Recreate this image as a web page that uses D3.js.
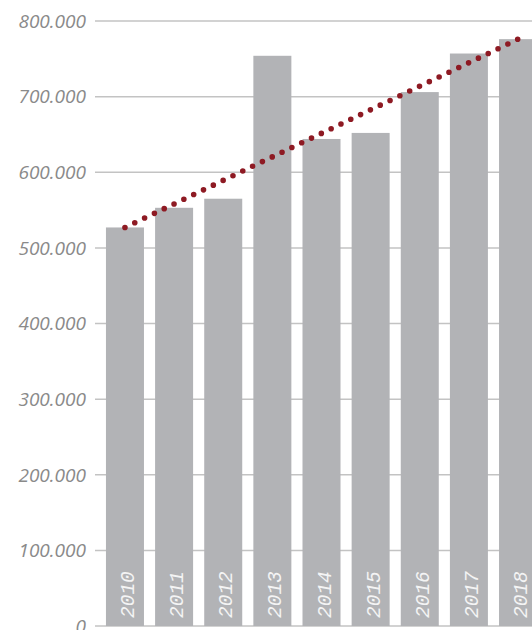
<!DOCTYPE html>
<html>
<head>
<meta charset="utf-8">
<script src="https://cdn.jsdelivr.net/npm/d3@7"></script>
<style>
  html, body { margin: 0; padding: 0; background: #fff; }
  svg { display: block; }
</style>
</head>
<body>
<svg id="chart" width="532" height="630"></svg>
<script>
// Annual totals, 2010–2018
const years = ["2010", "2011", "2012", "2013", "2014", "2015", "2016", "2017", "2018"];
const values = [527000, 553000, 565000, 754000, 644000, 652000, 706000, 757000, 776000];
const yTicks = [0, 100000, 200000, 300000, 400000, 500000, 600000, 700000, 800000];
const yTickLabels = ["0", "100.000", "200.000", "300.000", "400.000", "500.000", "600.000", "700.000", "800.000"];

const svg = d3.select("#chart");

const y = d3.scaleLinear().domain([0, 800000]).range([626, 21]);
const x = d3.scaleBand()
  .domain(years)
  .range([100.4, 542.6])
  .paddingInner(0.2265)
  .paddingOuter(0.113);

// Horizontal gridlines
svg.append("g")
  .selectAll("line")
  .data(yTicks)
  .join("line")
  .attr("x1", 95)
  .attr("x2", 532)
  .attr("y1", d => y(d))
  .attr("y2", d => y(d))
  .attr("stroke", "#c3c3c3")
  .attr("stroke-width", 1.5);

// Y-axis labels
svg.append("g")
  .selectAll("text")
  .data(yTicks)
  .join("text")
  .attr("x", 86)
  .attr("y", d => y(d))
  .attr("dy", "0.36em")
  .attr("text-anchor", "end")
  .attr("font-family", "'Open Sans', sans-serif")
  .attr("font-style", "italic")
  .attr("font-size", 19)
  .attr("fill", "#8a8a8a")
  .text((d, i) => yTickLabels[i]);

// Bars
svg.append("g")
  .selectAll("rect")
  .data(values)
  .join("rect")
  .attr("x", (d, i) => x(years[i]))
  .attr("y", d => y(d))
  .attr("width", x.bandwidth())
  .attr("height", d => y(0) - y(d))
  .attr("fill", "#b2b3b6");

// Year labels inside the bars
svg.append("g")
  .selectAll("text")
  .data(years)
  .join("text")
  .attr("transform", d => `translate(${x(d) + x.bandwidth() / 2 + 2},618) rotate(-90)`)
  .attr("dy", "0.36em")
  .attr("text-anchor", "start")
  .attr("font-family", "'Liberation Mono', monospace")
  .attr("font-style", "italic")
  .attr("font-size", 19.5)
  .attr("fill", "#f4f4f4")
  .text(d => d);

// Dotted trend from the first year's value to the last
const first = 0, last = values.length - 1;
const trend = [
  [x(years[first]) + x.bandwidth() / 2, y(values[first])],
  [x(years[last]) + x.bandwidth() / 2, y(values[last])]
];
const trendLen = Math.hypot(trend[1][0] - trend[0][0], trend[1][1] - trend[0][1]);
// slightly shorter spacing so the final dot lands inside the path end
const gap = trendLen / Math.round(trendLen / 10.92) - 0.01;
svg.append("path")
  .attr("d", d3.line()(trend))
  .attr("fill", "none")
  .attr("stroke", "#8e1a23")
  .attr("stroke-width", 5.6)
  .attr("stroke-linecap", "round")
  .attr("stroke-dasharray", `0 ${gap}`);
</script>
</body>
</html>
